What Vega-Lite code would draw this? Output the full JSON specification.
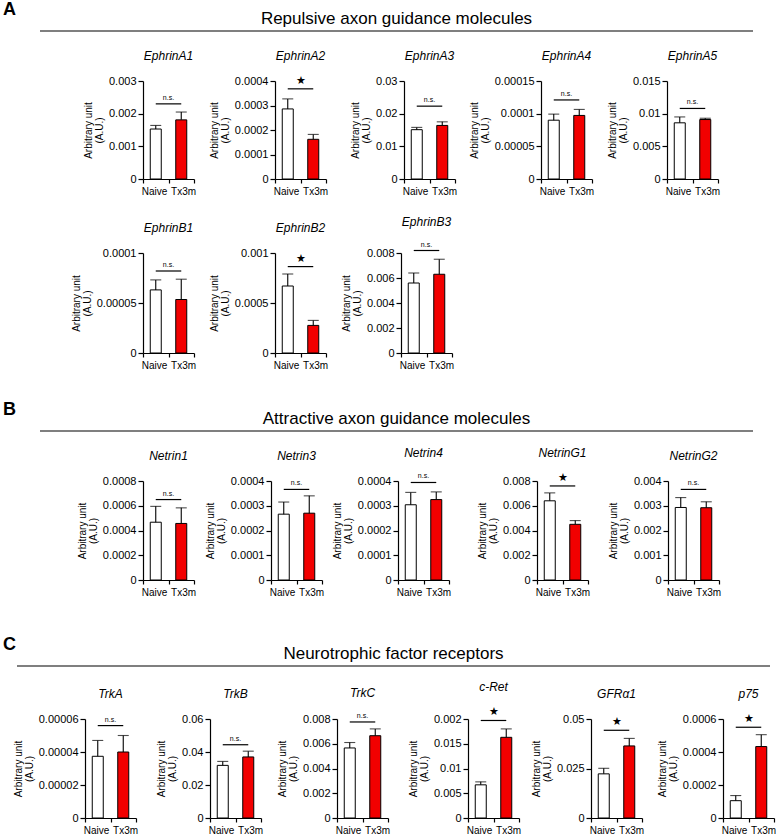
{
"$schema": "https://vega.github.io/schema/vega-lite/v6.json",
"padding": {"left": 3, "top": 1, "right": 0, "bottom": 0},
"background": "white",
"data": {"name": "expr"},
"datasets": {"expr": [
{"gene":"EphrinA1","group":"Naive","mean":0.00153,"upper":0.00164,"sig":"n.s.","sigy":0.0023},
{"gene":"EphrinA1","group":"Tx3m","mean":0.00181,"upper":0.00205,"sig":"n.s.","sigy":0.0023},
{"gene":"EphrinA2","group":"Naive","mean":0.000286,"upper":0.000327,"sig":"★","sigy":0.000368},
{"gene":"EphrinA2","group":"Tx3m","mean":0.000162,"upper":0.000182,"sig":"★","sigy":0.000368},
{"gene":"EphrinA3","group":"Naive","mean":0.0151,"upper":0.0158,"sig":"n.s.","sigy":0.0223},
{"gene":"EphrinA3","group":"Tx3m","mean":0.0164,"upper":0.0175,"sig":"n.s.","sigy":0.0223},
{"gene":"EphrinA4","group":"Naive","mean":0.000090,"upper":0.0000993,"sig":"n.s.","sigy":0.000121},
{"gene":"EphrinA4","group":"Tx3m","mean":0.0000973,"upper":0.0001065,"sig":"n.s.","sigy":0.000121},
{"gene":"EphrinA5","group":"Naive","mean":0.0086,"upper":0.0095,"sig":"n.s.","sigy":0.0108},
{"gene":"EphrinA5","group":"Tx3m","mean":0.0091,"upper":0.0093,"sig":"n.s.","sigy":0.0108},
{"gene":"EphrinB1","group":"Naive","mean":0.0000631,"upper":0.0000731,"sig":"n.s.","sigy":0.000082},
{"gene":"EphrinB1","group":"Tx3m","mean":0.0000535,"upper":0.0000738,"sig":"n.s.","sigy":0.000082},
{"gene":"EphrinB2","group":"Naive","mean":0.00067,"upper":0.00079,"sig":"★","sigy":0.000864},
{"gene":"EphrinB2","group":"Tx3m","mean":0.000276,"upper":0.000326,"sig":"★","sigy":0.000864},
{"gene":"EphrinB3","group":"Naive","mean":0.0056,"upper":0.0064,"sig":"n.s.","sigy":0.0082},
{"gene":"EphrinB3","group":"Tx3m","mean":0.0063,"upper":0.0075,"sig":"n.s.","sigy":0.0082},
{"gene":"Netrin1","group":"Naive","mean":0.000467,"upper":0.000595,"sig":"n.s.","sigy":0.00065},
{"gene":"Netrin1","group":"Tx3m","mean":0.000457,"upper":0.000583,"sig":"n.s.","sigy":0.00065},
{"gene":"Netrin3","group":"Naive","mean":0.000266,"upper":0.000315,"sig":"n.s.","sigy":0.000366},
{"gene":"Netrin3","group":"Tx3m","mean":0.00027,"upper":0.00034,"sig":"n.s.","sigy":0.000366},
{"gene":"Netrin4","group":"Naive","mean":0.000304,"upper":0.000354,"sig":"n.s.","sigy":0.000394},
{"gene":"Netrin4","group":"Tx3m","mean":0.000325,"upper":0.000356,"sig":"n.s.","sigy":0.000394},
{"gene":"NetrinG1","group":"Naive","mean":0.0064,"upper":0.00704,"sig":"★","sigy":0.0076},
{"gene":"NetrinG1","group":"Tx3m","mean":0.0045,"upper":0.0048,"sig":"★","sigy":0.0076},
{"gene":"NetrinG2","group":"Naive","mean":0.00293,"upper":0.00333,"sig":"n.s.","sigy":0.00366},
{"gene":"NetrinG2","group":"Tx3m","mean":0.00292,"upper":0.00316,"sig":"n.s.","sigy":0.00366},
{"gene":"TrkA","group":"Naive","mean":0.0000374,"upper":0.000047,"sig":"n.s.","sigy":0.000056},
{"gene":"TrkA","group":"Tx3m","mean":0.00004,"upper":0.00005,"sig":"n.s.","sigy":0.000056},
{"gene":"TrkB","group":"Naive","mean":0.0319,"upper":0.0343,"sig":"n.s.","sigy":0.0444},
{"gene":"TrkB","group":"Tx3m","mean":0.037,"upper":0.0405,"sig":"n.s.","sigy":0.0444},
{"gene":"TrkC","group":"Naive","mean":0.00566,"upper":0.0061,"sig":"n.s.","sigy":0.00776},
{"gene":"TrkC","group":"Tx3m","mean":0.00665,"upper":0.0072,"sig":"n.s.","sigy":0.00776},
{"gene":"c-Ret","group":"Naive","mean":0.0067,"upper":0.0073,"sig":"★","sigy":0.0197},
{"gene":"c-Ret","group":"Tx3m","mean":0.0163,"upper":0.018,"sig":"★","sigy":0.0197},
{"gene":"GFRα1","group":"Naive","mean":0.0223,"upper":0.0251,"sig":"★","sigy":0.0443},
{"gene":"GFRα1","group":"Tx3m","mean":0.0364,"upper":0.0402,"sig":"★","sigy":0.0443},
{"gene":"p75","group":"Naive","mean":0.000105,"upper":0.000136,"sig":"★","sigy":0.00055},
{"gene":"p75","group":"Tx3m","mean":0.000433,"upper":0.000505,"sig":"★","sigy":0.00055}
]},
"vconcat": [
 {"hconcat": [
  {"width": 37, "height": 49, "data": {"values": []}, "mark": "point", "title": {"text": "A", "anchor": "start", "fontStyle": "normal", "fontWeight": "bold", "fontSize": 18, "offset": 12}},
  {"width": 713, "height": 49, "data": {"values": [{}]}, "title": {"text": "Repulsive axon guidance molecules", "fontStyle": "normal", "fontSize": 17, "offset": 2}, "mark": {"type": "rule", "color": "black", "strokeWidth": 1.2}, "encoding": {"x": {"value": 0}, "x2": {"value": "width"}, "y": {"value": 0}}}
 ], "spacing": 0, "bounds": "flush"},
 {"width": 1, "height": 49.5, "data": {"values": []}, "mark": "point"},
 {"hconcat": [
  {"width": 139.5, "height": 1, "data": {"values": []}, "mark": "point"},
  {"title":"EphrinA1","width":51,"height":98,"transform":[{"filter":"datum.gene==='EphrinA1'"}],"encoding":{"x":{"field":"group","type":"nominal","sort":["Naive","Tx3m"],"title":null},"y":{"field":"mean","type":"quantitative","scale":{"domain":[0,0.003]},"axis":{"title":["Arbitrary unit","(A.U.)"],"values":[0,0.001,0.002,0.003],"format":".6~g"}}},
   "layer":[{"mark":{"type":"bar","width":11,"stroke":"black","strokeWidth":1},"encoding":{"fill":{"field":"group","type":"nominal","scale":{"domain":["Naive","Tx3m"],"range":["white","#f20000"]},"legend":null}}},{"mark":{"type":"rule","color":"black","strokeWidth":1.1},"encoding":{"y2":{"field":"upper"}}},{"mark":{"type":"tick","color":"black","size":11,"thickness":1.1},"encoding":{"y":{"field":"upper","type":"quantitative"}}},{"mark":{"type":"line","color":"black","strokeWidth":1.2},"encoding":{"y":{"field":"sigy","type":"quantitative"}}},{"transform":[{"filter":"datum.group==='Naive'"}],"mark":{"type":"text","baseline":"bottom","dy":-3,"color":"black"},"encoding":{"x":{"field":"group","type":"nominal","bandPosition":1},"y":{"field":"sigy","type":"quantitative"},"text":{"field":"sig"},"size":{"field":"sig","type":"ordinal","scale":{"domain":["n.s.","★"],"range":[7,11]},"legend":null}}}]},
  {"width": 80.5, "height": 1, "data": {"values": []}, "mark": "point"},
  {"title":"EphrinA2","width":51,"height":98,"transform":[{"filter":"datum.gene==='EphrinA2'"}],"encoding":{"x":{"field":"group","type":"nominal","sort":["Naive","Tx3m"],"title":null},"y":{"field":"mean","type":"quantitative","scale":{"domain":[0,0.0004]},"axis":{"title":["Arbitrary unit","(A.U.)"],"values":[0,0.0001,0.0002,0.0003,0.0004],"format":".6~g"}}},
   "layer":[{"mark":{"type":"bar","width":11,"stroke":"black","strokeWidth":1},"encoding":{"fill":{"field":"group","type":"nominal","scale":{"domain":["Naive","Tx3m"],"range":["white","#f20000"]},"legend":null}}},{"mark":{"type":"rule","color":"black","strokeWidth":1.1},"encoding":{"y2":{"field":"upper"}}},{"mark":{"type":"tick","color":"black","size":11,"thickness":1.1},"encoding":{"y":{"field":"upper","type":"quantitative"}}},{"mark":{"type":"line","color":"black","strokeWidth":1.2},"encoding":{"y":{"field":"sigy","type":"quantitative"}}},{"transform":[{"filter":"datum.group==='Naive'"}],"mark":{"type":"text","baseline":"bottom","dy":-3,"color":"black"},"encoding":{"x":{"field":"group","type":"nominal","bandPosition":1},"y":{"field":"sigy","type":"quantitative"},"text":{"field":"sig"},"size":{"field":"sig","type":"ordinal","scale":{"domain":["n.s.","★"],"range":[7,11]},"legend":null}}}]},
  {"width": 78, "height": 1, "data": {"values": []}, "mark": "point"},
  {"title":"EphrinA3","width":51,"height":98,"transform":[{"filter":"datum.gene==='EphrinA3'"}],"encoding":{"x":{"field":"group","type":"nominal","sort":["Naive","Tx3m"],"title":null},"y":{"field":"mean","type":"quantitative","scale":{"domain":[0,0.03]},"axis":{"title":["Arbitrary unit","(A.U.)"],"values":[0,0.01,0.02,0.03],"format":".6~g"}}},
   "layer":[{"mark":{"type":"bar","width":11,"stroke":"black","strokeWidth":1},"encoding":{"fill":{"field":"group","type":"nominal","scale":{"domain":["Naive","Tx3m"],"range":["white","#f20000"]},"legend":null}}},{"mark":{"type":"rule","color":"black","strokeWidth":1.1},"encoding":{"y2":{"field":"upper"}}},{"mark":{"type":"tick","color":"black","size":11,"thickness":1.1},"encoding":{"y":{"field":"upper","type":"quantitative"}}},{"mark":{"type":"line","color":"black","strokeWidth":1.2},"encoding":{"y":{"field":"sigy","type":"quantitative"}}},{"transform":[{"filter":"datum.group==='Naive'"}],"mark":{"type":"text","baseline":"bottom","dy":-3,"color":"black"},"encoding":{"x":{"field":"group","type":"nominal","bandPosition":1},"y":{"field":"sigy","type":"quantitative"},"text":{"field":"sig"},"size":{"field":"sig","type":"ordinal","scale":{"domain":["n.s.","★"],"range":[7,11]},"legend":null}}}]},
  {"width": 85.5, "height": 1, "data": {"values": []}, "mark": "point"},
  {"title":"EphrinA4","width":51,"height":98,"transform":[{"filter":"datum.gene==='EphrinA4'"}],"encoding":{"x":{"field":"group","type":"nominal","sort":["Naive","Tx3m"],"title":null},"y":{"field":"mean","type":"quantitative","scale":{"domain":[0,0.00015]},"axis":{"title":["Arbitrary unit","(A.U.)"],"values":[0,0.00005,0.0001,0.00015],"format":".6~g"}}},
   "layer":[{"mark":{"type":"bar","width":11,"stroke":"black","strokeWidth":1},"encoding":{"fill":{"field":"group","type":"nominal","scale":{"domain":["Naive","Tx3m"],"range":["white","#f20000"]},"legend":null}}},{"mark":{"type":"rule","color":"black","strokeWidth":1.1},"encoding":{"y2":{"field":"upper"}}},{"mark":{"type":"tick","color":"black","size":11,"thickness":1.1},"encoding":{"y":{"field":"upper","type":"quantitative"}}},{"mark":{"type":"line","color":"black","strokeWidth":1.2},"encoding":{"y":{"field":"sigy","type":"quantitative"}}},{"transform":[{"filter":"datum.group==='Naive'"}],"mark":{"type":"text","baseline":"bottom","dy":-3,"color":"black"},"encoding":{"x":{"field":"group","type":"nominal","bandPosition":1},"y":{"field":"sigy","type":"quantitative"},"text":{"field":"sig"},"size":{"field":"sig","type":"ordinal","scale":{"domain":["n.s.","★"],"range":[7,11]},"legend":null}}}]},
  {"width": 74.5, "height": 1, "data": {"values": []}, "mark": "point"},
  {"title":"EphrinA5","width":51,"height":98,"transform":[{"filter":"datum.gene==='EphrinA5'"}],"encoding":{"x":{"field":"group","type":"nominal","sort":["Naive","Tx3m"],"title":null},"y":{"field":"mean","type":"quantitative","scale":{"domain":[0,0.015]},"axis":{"title":["Arbitrary unit","(A.U.)"],"values":[0,0.005,0.01,0.015],"format":".6~g"}}},
   "layer":[{"mark":{"type":"bar","width":11,"stroke":"black","strokeWidth":1},"encoding":{"fill":{"field":"group","type":"nominal","scale":{"domain":["Naive","Tx3m"],"range":["white","#f20000"]},"legend":null}}},{"mark":{"type":"rule","color":"black","strokeWidth":1.1},"encoding":{"y2":{"field":"upper"}}},{"mark":{"type":"tick","color":"black","size":11,"thickness":1.1},"encoding":{"y":{"field":"upper","type":"quantitative"}}},{"mark":{"type":"line","color":"black","strokeWidth":1.2},"encoding":{"y":{"field":"sigy","type":"quantitative"}}},{"transform":[{"filter":"datum.group==='Naive'"}],"mark":{"type":"text","baseline":"bottom","dy":-3,"color":"black"},"encoding":{"x":{"field":"group","type":"nominal","bandPosition":1},"y":{"field":"sigy","type":"quantitative"},"text":{"field":"sig"},"size":{"field":"sig","type":"ordinal","scale":{"domain":["n.s.","★"],"range":[7,11]},"legend":null}}}]}
 ], "spacing": 0, "bounds": "flush"},
 {"width": 1, "height": 171.3, "data": {"values": []}, "mark": "point"},
 {"hconcat": [
  {"width": 139.5, "height": 1, "data": {"values": []}, "mark": "point"},
  {"title":"EphrinB1","width":51,"height":100,"transform":[{"filter":"datum.gene==='EphrinB1'"}],"encoding":{"x":{"field":"group","type":"nominal","sort":["Naive","Tx3m"],"title":null},"y":{"field":"mean","type":"quantitative","scale":{"domain":[0,0.0001]},"axis":{"title":["Arbitrary unit","(A.U.)"],"values":[0,0.00005,0.0001],"format":".6~g"}}},
   "layer":[{"mark":{"type":"bar","width":11,"stroke":"black","strokeWidth":1},"encoding":{"fill":{"field":"group","type":"nominal","scale":{"domain":["Naive","Tx3m"],"range":["white","#f20000"]},"legend":null}}},{"mark":{"type":"rule","color":"black","strokeWidth":1.1},"encoding":{"y2":{"field":"upper"}}},{"mark":{"type":"tick","color":"black","size":11,"thickness":1.1},"encoding":{"y":{"field":"upper","type":"quantitative"}}},{"mark":{"type":"line","color":"black","strokeWidth":1.2},"encoding":{"y":{"field":"sigy","type":"quantitative"}}},{"transform":[{"filter":"datum.group==='Naive'"}],"mark":{"type":"text","baseline":"bottom","dy":-3,"color":"black"},"encoding":{"x":{"field":"group","type":"nominal","bandPosition":1},"y":{"field":"sigy","type":"quantitative"},"text":{"field":"sig"},"size":{"field":"sig","type":"ordinal","scale":{"domain":["n.s.","★"],"range":[7,11]},"legend":null}}}]},
  {"width": 80.5, "height": 1, "data": {"values": []}, "mark": "point"},
  {"title":"EphrinB2","width":51,"height":100,"transform":[{"filter":"datum.gene==='EphrinB2'"}],"encoding":{"x":{"field":"group","type":"nominal","sort":["Naive","Tx3m"],"title":null},"y":{"field":"mean","type":"quantitative","scale":{"domain":[0,0.001]},"axis":{"title":["Arbitrary unit","(A.U.)"],"values":[0,0.0005,0.001],"format":".6~g"}}},
   "layer":[{"mark":{"type":"bar","width":11,"stroke":"black","strokeWidth":1},"encoding":{"fill":{"field":"group","type":"nominal","scale":{"domain":["Naive","Tx3m"],"range":["white","#f20000"]},"legend":null}}},{"mark":{"type":"rule","color":"black","strokeWidth":1.1},"encoding":{"y2":{"field":"upper"}}},{"mark":{"type":"tick","color":"black","size":11,"thickness":1.1},"encoding":{"y":{"field":"upper","type":"quantitative"}}},{"mark":{"type":"line","color":"black","strokeWidth":1.2},"encoding":{"y":{"field":"sigy","type":"quantitative"}}},{"transform":[{"filter":"datum.group==='Naive'"}],"mark":{"type":"text","baseline":"bottom","dy":-3,"color":"black"},"encoding":{"x":{"field":"group","type":"nominal","bandPosition":1},"y":{"field":"sigy","type":"quantitative"},"text":{"field":"sig"},"size":{"field":"sig","type":"ordinal","scale":{"domain":["n.s.","★"],"range":[7,11]},"legend":null}}}]},
  {"width": 75, "height": 1, "data": {"values": []}, "mark": "point"},
  {"title":"EphrinB3","width":51,"height":100,"transform":[{"filter":"datum.gene==='EphrinB3'"}],"encoding":{"x":{"field":"group","type":"nominal","sort":["Naive","Tx3m"],"title":null},"y":{"field":"mean","type":"quantitative","scale":{"domain":[0,0.008]},"axis":{"title":["Arbitrary unit","(A.U.)"],"values":[0,0.002,0.004,0.006,0.008],"format":".6~g"}}},
   "layer":[{"mark":{"type":"bar","width":11,"stroke":"black","strokeWidth":1},"encoding":{"fill":{"field":"group","type":"nominal","scale":{"domain":["Naive","Tx3m"],"range":["white","#f20000"]},"legend":null}}},{"mark":{"type":"rule","color":"black","strokeWidth":1.1},"encoding":{"y2":{"field":"upper"}}},{"mark":{"type":"tick","color":"black","size":11,"thickness":1.1},"encoding":{"y":{"field":"upper","type":"quantitative"}}},{"mark":{"type":"line","color":"black","strokeWidth":1.2},"encoding":{"y":{"field":"sigy","type":"quantitative"}}},{"transform":[{"filter":"datum.group==='Naive'"}],"mark":{"type":"text","baseline":"bottom","dy":-3,"color":"black"},"encoding":{"x":{"field":"group","type":"nominal","bandPosition":1},"y":{"field":"sigy","type":"quantitative"},"text":{"field":"sig"},"size":{"field":"sig","type":"ordinal","scale":{"domain":["n.s.","★"],"range":[7,11]},"legend":null}}}]}
 ], "spacing": 0, "bounds": "flush"},
 {"width": 1, "height": 177.5, "data": {"values": []}, "mark": "point"},
 {"hconcat": [
  {"width": 37, "height": 50, "data": {"values": []}, "mark": "point", "title": {"text": "B", "anchor": "start", "fontStyle": "normal", "fontWeight": "bold", "fontSize": 18, "offset": 12}},
  {"width": 713, "height": 50, "data": {"values": [{}]}, "title": {"text": "Attractive axon guidance molecules", "fontStyle": "normal", "fontSize": 17, "offset": 2}, "mark": {"type": "rule", "color": "black", "strokeWidth": 1.2}, "encoding": {"x": {"value": 0}, "x2": {"value": "width"}, "y": {"value": 0}}}
 ], "spacing": 0, "bounds": "flush"},
 {"width": 1, "height": 50, "data": {"values": []}, "mark": "point"},
 {"hconcat": [
  {"width": 139.5, "height": 1, "data": {"values": []}, "mark": "point"},
  {"title":"Netrin1","width":51,"height":99,"transform":[{"filter":"datum.gene==='Netrin1'"}],"encoding":{"x":{"field":"group","type":"nominal","sort":["Naive","Tx3m"],"title":null},"y":{"field":"mean","type":"quantitative","scale":{"domain":[0,0.0008]},"axis":{"title":["Arbitrary unit","(A.U.)"],"values":[0,0.0002,0.0004,0.0006,0.0008],"format":".6~g"}}},
   "layer":[{"mark":{"type":"bar","width":11,"stroke":"black","strokeWidth":1},"encoding":{"fill":{"field":"group","type":"nominal","scale":{"domain":["Naive","Tx3m"],"range":["white","#f20000"]},"legend":null}}},{"mark":{"type":"rule","color":"black","strokeWidth":1.1},"encoding":{"y2":{"field":"upper"}}},{"mark":{"type":"tick","color":"black","size":11,"thickness":1.1},"encoding":{"y":{"field":"upper","type":"quantitative"}}},{"mark":{"type":"line","color":"black","strokeWidth":1.2},"encoding":{"y":{"field":"sigy","type":"quantitative"}}},{"transform":[{"filter":"datum.group==='Naive'"}],"mark":{"type":"text","baseline":"bottom","dy":-3,"color":"black"},"encoding":{"x":{"field":"group","type":"nominal","bandPosition":1},"y":{"field":"sigy","type":"quantitative"},"text":{"field":"sig"},"size":{"field":"sig","type":"ordinal","scale":{"domain":["n.s.","★"],"range":[7,11]},"legend":null}}}]},
  {"width": 76.5, "height": 1, "data": {"values": []}, "mark": "point"},
  {"title":"Netrin3","width":51,"height":99,"transform":[{"filter":"datum.gene==='Netrin3'"}],"encoding":{"x":{"field":"group","type":"nominal","sort":["Naive","Tx3m"],"title":null},"y":{"field":"mean","type":"quantitative","scale":{"domain":[0,0.0004]},"axis":{"title":["Arbitrary unit","(A.U.)"],"values":[0,0.0001,0.0002,0.0003,0.0004],"format":".6~g"}}},
   "layer":[{"mark":{"type":"bar","width":11,"stroke":"black","strokeWidth":1},"encoding":{"fill":{"field":"group","type":"nominal","scale":{"domain":["Naive","Tx3m"],"range":["white","#f20000"]},"legend":null}}},{"mark":{"type":"rule","color":"black","strokeWidth":1.1},"encoding":{"y2":{"field":"upper"}}},{"mark":{"type":"tick","color":"black","size":11,"thickness":1.1},"encoding":{"y":{"field":"upper","type":"quantitative"}}},{"mark":{"type":"line","color":"black","strokeWidth":1.2},"encoding":{"y":{"field":"sigy","type":"quantitative"}}},{"transform":[{"filter":"datum.group==='Naive'"}],"mark":{"type":"text","baseline":"bottom","dy":-3,"color":"black"},"encoding":{"x":{"field":"group","type":"nominal","bandPosition":1},"y":{"field":"sigy","type":"quantitative"},"text":{"field":"sig"},"size":{"field":"sig","type":"ordinal","scale":{"domain":["n.s.","★"],"range":[7,11]},"legend":null}}}]},
  {"width": 76, "height": 1, "data": {"values": []}, "mark": "point"},
  {"title":"Netrin4","width":51,"height":99,"transform":[{"filter":"datum.gene==='Netrin4'"}],"encoding":{"x":{"field":"group","type":"nominal","sort":["Naive","Tx3m"],"title":null},"y":{"field":"mean","type":"quantitative","scale":{"domain":[0,0.0004]},"axis":{"title":["Arbitrary unit","(A.U.)"],"values":[0,0.0001,0.0002,0.0003,0.0004],"format":".6~g"}}},
   "layer":[{"mark":{"type":"bar","width":11,"stroke":"black","strokeWidth":1},"encoding":{"fill":{"field":"group","type":"nominal","scale":{"domain":["Naive","Tx3m"],"range":["white","#f20000"]},"legend":null}}},{"mark":{"type":"rule","color":"black","strokeWidth":1.1},"encoding":{"y2":{"field":"upper"}}},{"mark":{"type":"tick","color":"black","size":11,"thickness":1.1},"encoding":{"y":{"field":"upper","type":"quantitative"}}},{"mark":{"type":"line","color":"black","strokeWidth":1.2},"encoding":{"y":{"field":"sigy","type":"quantitative"}}},{"transform":[{"filter":"datum.group==='Naive'"}],"mark":{"type":"text","baseline":"bottom","dy":-3,"color":"black"},"encoding":{"x":{"field":"group","type":"nominal","bandPosition":1},"y":{"field":"sigy","type":"quantitative"},"text":{"field":"sig"},"size":{"field":"sig","type":"ordinal","scale":{"domain":["n.s.","★"],"range":[7,11]},"legend":null}}}]},
  {"width": 88, "height": 1, "data": {"values": []}, "mark": "point"},
  {"title":"NetrinG1","width":51,"height":99,"transform":[{"filter":"datum.gene==='NetrinG1'"}],"encoding":{"x":{"field":"group","type":"nominal","sort":["Naive","Tx3m"],"title":null},"y":{"field":"mean","type":"quantitative","scale":{"domain":[0,0.008]},"axis":{"title":["Arbitrary unit","(A.U.)"],"values":[0,0.002,0.004,0.006,0.008],"format":".6~g"}}},
   "layer":[{"mark":{"type":"bar","width":11,"stroke":"black","strokeWidth":1},"encoding":{"fill":{"field":"group","type":"nominal","scale":{"domain":["Naive","Tx3m"],"range":["white","#f20000"]},"legend":null}}},{"mark":{"type":"rule","color":"black","strokeWidth":1.1},"encoding":{"y2":{"field":"upper"}}},{"mark":{"type":"tick","color":"black","size":11,"thickness":1.1},"encoding":{"y":{"field":"upper","type":"quantitative"}}},{"mark":{"type":"line","color":"black","strokeWidth":1.2},"encoding":{"y":{"field":"sigy","type":"quantitative"}}},{"transform":[{"filter":"datum.group==='Naive'"}],"mark":{"type":"text","baseline":"bottom","dy":-3,"color":"black"},"encoding":{"x":{"field":"group","type":"nominal","bandPosition":1},"y":{"field":"sigy","type":"quantitative"},"text":{"field":"sig"},"size":{"field":"sig","type":"ordinal","scale":{"domain":["n.s.","★"],"range":[7,11]},"legend":null}}}]},
  {"width": 80, "height": 1, "data": {"values": []}, "mark": "point"},
  {"title":"NetrinG2","width":51,"height":99,"transform":[{"filter":"datum.gene==='NetrinG2'"}],"encoding":{"x":{"field":"group","type":"nominal","sort":["Naive","Tx3m"],"title":null},"y":{"field":"mean","type":"quantitative","scale":{"domain":[0,0.004]},"axis":{"title":["Arbitrary unit","(A.U.)"],"values":[0,0.001,0.002,0.003,0.004],"format":".6~g"}}},
   "layer":[{"mark":{"type":"bar","width":11,"stroke":"black","strokeWidth":1},"encoding":{"fill":{"field":"group","type":"nominal","scale":{"domain":["Naive","Tx3m"],"range":["white","#f20000"]},"legend":null}}},{"mark":{"type":"rule","color":"black","strokeWidth":1.1},"encoding":{"y2":{"field":"upper"}}},{"mark":{"type":"tick","color":"black","size":11,"thickness":1.1},"encoding":{"y":{"field":"upper","type":"quantitative"}}},{"mark":{"type":"line","color":"black","strokeWidth":1.2},"encoding":{"y":{"field":"sigy","type":"quantitative"}}},{"transform":[{"filter":"datum.group==='Naive'"}],"mark":{"type":"text","baseline":"bottom","dy":-3,"color":"black"},"encoding":{"x":{"field":"group","type":"nominal","bandPosition":1},"y":{"field":"sigy","type":"quantitative"},"text":{"field":"sig"},"size":{"field":"sig","type":"ordinal","scale":{"domain":["n.s.","★"],"range":[7,11]},"legend":null}}}]}
 ], "spacing": 0, "bounds": "flush"},
 {"width": 1, "height": 185, "data": {"values": []}, "mark": "point"},
 {"hconcat": [
  {"width": 14, "height": 53, "data": {"values": []}, "mark": "point", "title": {"text": "C", "anchor": "start", "fontStyle": "normal", "fontWeight": "bold", "fontSize": 18, "offset": 12}},
  {"width": 753, "height": 53, "data": {"values": [{}]}, "title": {"text": "Neurotrophic factor receptors", "fontStyle": "normal", "fontSize": 17, "offset": 2}, "mark": {"type": "rule", "color": "black", "strokeWidth": 1.2}, "encoding": {"x": {"value": 0}, "x2": {"value": "width"}, "y": {"value": 0}}}
 ], "spacing": 0, "bounds": "flush"},
 {"width": 1, "height": 53, "data": {"values": []}, "mark": "point"},
 {"hconcat": [
  {"width": 82, "height": 1, "data": {"values": []}, "mark": "point"},
  {"title":"TrkA","width":51,"height":99,"transform":[{"filter":"datum.gene==='TrkA'"}],"encoding":{"x":{"field":"group","type":"nominal","sort":["Naive","Tx3m"],"title":null},"y":{"field":"mean","type":"quantitative","scale":{"domain":[0,0.00006]},"axis":{"title":["Arbitrary unit","(A.U.)"],"values":[0,0.00002,0.00004,0.00006],"format":".6~g"}}},
   "layer":[{"mark":{"type":"bar","width":11,"stroke":"black","strokeWidth":1},"encoding":{"fill":{"field":"group","type":"nominal","scale":{"domain":["Naive","Tx3m"],"range":["white","#f20000"]},"legend":null}}},{"mark":{"type":"rule","color":"black","strokeWidth":1.1},"encoding":{"y2":{"field":"upper"}}},{"mark":{"type":"tick","color":"black","size":11,"thickness":1.1},"encoding":{"y":{"field":"upper","type":"quantitative"}}},{"mark":{"type":"line","color":"black","strokeWidth":1.2},"encoding":{"y":{"field":"sigy","type":"quantitative"}}},{"transform":[{"filter":"datum.group==='Naive'"}],"mark":{"type":"text","baseline":"bottom","dy":-3,"color":"black"},"encoding":{"x":{"field":"group","type":"nominal","bandPosition":1},"y":{"field":"sigy","type":"quantitative"},"text":{"field":"sig"},"size":{"field":"sig","type":"ordinal","scale":{"domain":["n.s.","★"],"range":[7,11]},"legend":null}}}]},
  {"width": 74, "height": 1, "data": {"values": []}, "mark": "point"},
  {"title":"TrkB","width":51,"height":99,"transform":[{"filter":"datum.gene==='TrkB'"}],"encoding":{"x":{"field":"group","type":"nominal","sort":["Naive","Tx3m"],"title":null},"y":{"field":"mean","type":"quantitative","scale":{"domain":[0,0.06]},"axis":{"title":["Arbitrary unit","(A.U.)"],"values":[0,0.02,0.04,0.06],"format":".6~g"}}},
   "layer":[{"mark":{"type":"bar","width":11,"stroke":"black","strokeWidth":1},"encoding":{"fill":{"field":"group","type":"nominal","scale":{"domain":["Naive","Tx3m"],"range":["white","#f20000"]},"legend":null}}},{"mark":{"type":"rule","color":"black","strokeWidth":1.1},"encoding":{"y2":{"field":"upper"}}},{"mark":{"type":"tick","color":"black","size":11,"thickness":1.1},"encoding":{"y":{"field":"upper","type":"quantitative"}}},{"mark":{"type":"line","color":"black","strokeWidth":1.2},"encoding":{"y":{"field":"sigy","type":"quantitative"}}},{"transform":[{"filter":"datum.group==='Naive'"}],"mark":{"type":"text","baseline":"bottom","dy":-3,"color":"black"},"encoding":{"x":{"field":"group","type":"nominal","bandPosition":1},"y":{"field":"sigy","type":"quantitative"},"text":{"field":"sig"},"size":{"field":"sig","type":"ordinal","scale":{"domain":["n.s.","★"],"range":[7,11]},"legend":null}}}]},
  {"width": 76, "height": 1, "data": {"values": []}, "mark": "point"},
  {"title":"TrkC","width":51,"height":99,"transform":[{"filter":"datum.gene==='TrkC'"}],"encoding":{"x":{"field":"group","type":"nominal","sort":["Naive","Tx3m"],"title":null},"y":{"field":"mean","type":"quantitative","scale":{"domain":[0,0.008]},"axis":{"title":["Arbitrary unit","(A.U.)"],"values":[0,0.002,0.004,0.006,0.008],"format":".6~g"}}},
   "layer":[{"mark":{"type":"bar","width":11,"stroke":"black","strokeWidth":1},"encoding":{"fill":{"field":"group","type":"nominal","scale":{"domain":["Naive","Tx3m"],"range":["white","#f20000"]},"legend":null}}},{"mark":{"type":"rule","color":"black","strokeWidth":1.1},"encoding":{"y2":{"field":"upper"}}},{"mark":{"type":"tick","color":"black","size":11,"thickness":1.1},"encoding":{"y":{"field":"upper","type":"quantitative"}}},{"mark":{"type":"line","color":"black","strokeWidth":1.2},"encoding":{"y":{"field":"sigy","type":"quantitative"}}},{"transform":[{"filter":"datum.group==='Naive'"}],"mark":{"type":"text","baseline":"bottom","dy":-3,"color":"black"},"encoding":{"x":{"field":"group","type":"nominal","bandPosition":1},"y":{"field":"sigy","type":"quantitative"},"text":{"field":"sig"},"size":{"field":"sig","type":"ordinal","scale":{"domain":["n.s.","★"],"range":[7,11]},"legend":null}}}]},
  {"width": 80, "height": 1, "data": {"values": []}, "mark": "point"},
  {"title":"c-Ret","width":51,"height":99,"transform":[{"filter":"datum.gene==='c-Ret'"}],"encoding":{"x":{"field":"group","type":"nominal","sort":["Naive","Tx3m"],"title":null},"y":{"field":"mean","type":"quantitative","scale":{"domain":[0,0.02]},"axis":{"title":["Arbitrary unit","(A.U.)"],"values":[0,0.005,0.01,0.015,0.02],"format":".6~g","labelExpr":"datum.value === 0.02 ? '0.002' : datum.label"}}},
   "layer":[{"mark":{"type":"bar","width":11,"stroke":"black","strokeWidth":1},"encoding":{"fill":{"field":"group","type":"nominal","scale":{"domain":["Naive","Tx3m"],"range":["white","#f20000"]},"legend":null}}},{"mark":{"type":"rule","color":"black","strokeWidth":1.1},"encoding":{"y2":{"field":"upper"}}},{"mark":{"type":"tick","color":"black","size":11,"thickness":1.1},"encoding":{"y":{"field":"upper","type":"quantitative"}}},{"mark":{"type":"line","color":"black","strokeWidth":1.2},"encoding":{"y":{"field":"sigy","type":"quantitative"}}},{"transform":[{"filter":"datum.group==='Naive'"}],"mark":{"type":"text","baseline":"bottom","dy":-3,"color":"black"},"encoding":{"x":{"field":"group","type":"nominal","bandPosition":1},"y":{"field":"sigy","type":"quantitative"},"text":{"field":"sig"},"size":{"field":"sig","type":"ordinal","scale":{"domain":["n.s.","★"],"range":[7,11]},"legend":null}}}]},
  {"width": 72, "height": 1, "data": {"values": []}, "mark": "point"},
  {"title":"GFRα1","width":51,"height":99,"transform":[{"filter":"datum.gene==='GFRα1'"}],"encoding":{"x":{"field":"group","type":"nominal","sort":["Naive","Tx3m"],"title":null},"y":{"field":"mean","type":"quantitative","scale":{"domain":[0,0.05]},"axis":{"title":["Arbitrary unit","(A.U.)"],"values":[0,0.025,0.05],"format":".6~g"}}},
   "layer":[{"mark":{"type":"bar","width":11,"stroke":"black","strokeWidth":1},"encoding":{"fill":{"field":"group","type":"nominal","scale":{"domain":["Naive","Tx3m"],"range":["white","#f20000"]},"legend":null}}},{"mark":{"type":"rule","color":"black","strokeWidth":1.1},"encoding":{"y2":{"field":"upper"}}},{"mark":{"type":"tick","color":"black","size":11,"thickness":1.1},"encoding":{"y":{"field":"upper","type":"quantitative"}}},{"mark":{"type":"line","color":"black","strokeWidth":1.2},"encoding":{"y":{"field":"sigy","type":"quantitative"}}},{"transform":[{"filter":"datum.group==='Naive'"}],"mark":{"type":"text","baseline":"bottom","dy":-3,"color":"black"},"encoding":{"x":{"field":"group","type":"nominal","bandPosition":1},"y":{"field":"sigy","type":"quantitative"},"text":{"field":"sig"},"size":{"field":"sig","type":"ordinal","scale":{"domain":["n.s.","★"],"range":[7,11]},"legend":null}}}]},
  {"width": 81, "height": 1, "data": {"values": []}, "mark": "point"},
  {"title":"p75","width":51,"height":99,"transform":[{"filter":"datum.gene==='p75'"}],"encoding":{"x":{"field":"group","type":"nominal","sort":["Naive","Tx3m"],"title":null},"y":{"field":"mean","type":"quantitative","scale":{"domain":[0,0.0006]},"axis":{"title":["Arbitrary unit","(A.U.)"],"values":[0,0.0002,0.0004,0.0006],"format":".6~g"}}},
   "layer":[{"mark":{"type":"bar","width":11,"stroke":"black","strokeWidth":1},"encoding":{"fill":{"field":"group","type":"nominal","scale":{"domain":["Naive","Tx3m"],"range":["white","#f20000"]},"legend":null}}},{"mark":{"type":"rule","color":"black","strokeWidth":1.1},"encoding":{"y2":{"field":"upper"}}},{"mark":{"type":"tick","color":"black","size":11,"thickness":1.1},"encoding":{"y":{"field":"upper","type":"quantitative"}}},{"mark":{"type":"line","color":"black","strokeWidth":1.2},"encoding":{"y":{"field":"sigy","type":"quantitative"}}},{"transform":[{"filter":"datum.group==='Naive'"}],"mark":{"type":"text","baseline":"bottom","dy":-3,"color":"black"},"encoding":{"x":{"field":"group","type":"nominal","bandPosition":1},"y":{"field":"sigy","type":"quantitative"},"text":{"field":"sig"},"size":{"field":"sig","type":"ordinal","scale":{"domain":["n.s.","★"],"range":[7,11]},"legend":null}}}]}
 ], "spacing": 0, "bounds": "flush"}
],
"spacing": 0,
"bounds": "flush",
"config": {
 "font": "Liberation Sans",
 "view": {"stroke": null},
 "scale": {"bandPaddingInner": 0, "bandPaddingOuter": 0},
 "axis": {"domainColor": "black", "tickColor": "black", "labelColor": "black", "titleColor": "black", "grid": false, "domainWidth": 1.2, "tickWidth": 1.2, "titleFontWeight": "normal"},
 "axisY": {"tickSize": 5, "labelFontSize": 11, "labelPadding": 2, "titleFontSize": 10, "titlePadding": 4, "titleLineHeight": 11},
 "axisX": {"tickSize": 4, "labelAngle": 0, "labelFontSize": 10, "labelPadding": 3, "tickBand": "extent", "labelOffset": {"condition": {"test": "datum.value === 'Naive'", "value": -1.8}, "value": 1.8}},
 "title": {"fontStyle": "italic", "fontWeight": "normal", "fontSize": 12, "color": "black", "offset": 12, "frame": "group"}
}
}
